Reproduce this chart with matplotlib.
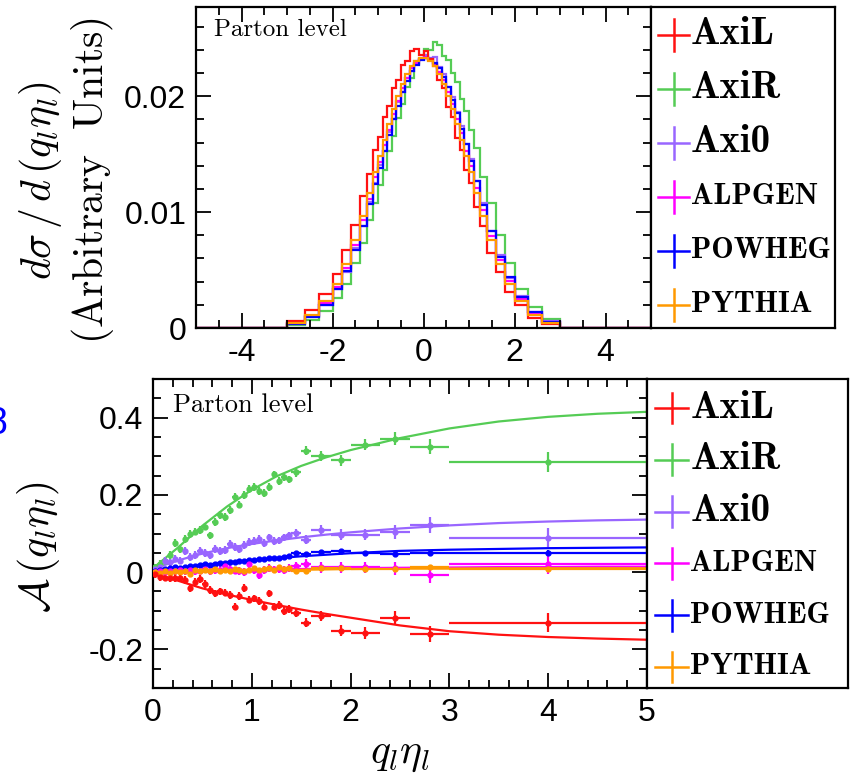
import numpy as np
import matplotlib
matplotlib.use('Agg')
import matplotlib.pyplot as plt
from matplotlib.ticker import MultipleLocator

plt.rcParams['font.family'] = 'Liberation Sans'
plt.rcParams['mathtext.fontset'] = 'cm'
plt.rcParams['axes.unicode_minus'] = False

# ---- data ----
names = ['AxiL', 'AxiR', 'Axi0', 'ALPGEN', 'POWHEG', 'PYTHIA']
colors = ['#ff1111', '#55cc55', '#9966ff', '#ff00ff', '#0000ff', '#ff9900']

# top panel: normalised q_l*eta_l distribution (variable bins), values in units of 1e-3
hist_edges = [-5, -3, -2.6, -2.3, -2.0, -1.8, -1.6, -1.4, -1.25, -1.1, -1.0, -0.9, -0.8, -0.7,
              -0.6, -0.5, -0.4, -0.3, -0.2, -0.1, 0.0, 0.1, 0.2, 0.3, 0.4, 0.5, 0.6, 0.7, 0.8,
              0.9, 1.0, 1.1, 1.25, 1.4, 1.6, 1.8, 2.0, 2.3, 2.6, 3.0, 5.0]
h_axil = [0, 0.64, 1.55, 2.95, 4.65, 6.75, 8.85, 11.4, 13.3, 15.4, 16.5, 18.2, 19.2, 20.7, 21.4,
          22.7, 23.0, 23.9, 24.1, 23.6, 23.9, 23.2, 22.6, 21.4, 20.7, 19.1, 18.2, 16.4, 15.4, 13.6,
          12.5, 10.4, 8.8, 6.5, 4.8, 3.1, 1.95, 0.9, 0.37, 0]
h_axir = [0, 0.27, 0.7, 1.45, 2.6, 3.8, 5.6, 7.3, 9.3, 10.8, 12.3, 13.6, 15.3, 16.6, 18.1, 19.3,
          20.8, 21.6, 22.8, 23.2, 24.1, 24.0, 24.7, 24.4, 23.5, 23.1, 22.0, 21.2, 19.8, 18.7, 17.1,
          15.5, 13.0, 10.8, 8.0, 5.6, 3.4, 1.8, 0.8, 0]
h_axi0 = [0, 0.4, 1.0, 1.95, 3.4, 4.85, 6.9, 8.8, 10.9, 12.5, 14.1, 15.3, 16.9, 18.0, 19.5, 20.4,
          21.6, 22.2, 23.0, 23.2, 23.6, 23.3, 23.4, 22.5, 21.9, 20.8, 19.9, 18.6, 17.4, 15.9, 14.6,
          12.7, 10.8, 8.4, 6.3, 4.3, 2.75, 1.35, 0.58, 0]
h_alpgen = [0, 0.43, 1.04, 2.18, 3.55, 5.2, 7.15, 9.3, 11.15, 13.0, 14.3, 15.8, 17.05, 18.45,
            19.55, 20.75, 21.55, 22.4, 22.85, 23.25, 23.35, 23.1, 22.8, 22.05, 21.4, 20.35, 19.35,
            18.05, 16.8, 15.3, 13.95, 12.1, 10.2, 7.9, 5.85, 4.05, 2.52, 1.25, 0.52, 0]
h_powheg = [0, 0.38, 0.96, 2.0, 3.33, 4.88, 6.77, 8.83, 10.7, 12.46, 13.83, 15.28, 16.63, 18.0,
            19.2, 20.38, 21.32, 22.16, 22.72, 23.15, 23.28, 23.25, 22.9, 22.43, 21.66, 20.79, 19.67,
            18.51, 17.17, 15.84, 14.4, 12.67, 10.58, 8.4, 6.15, 4.39, 2.66, 1.38, 0.55, 0]
h_pythia = [0, 0.46, 1.16, 2.31, 3.83, 5.49, 7.57, 9.68, 11.68, 13.43, 14.84, 16.24, 17.59, 18.86,
            20.03, 21.06, 21.92, 22.58, 23.04, 23.27, 23.27, 23.04, 22.58, 21.92, 21.06, 20.03,
            18.86, 17.59, 16.24, 14.84, 13.43, 11.68, 9.68, 7.57, 5.49, 3.83, 2.31, 1.16, 0.46, 0]

# bottom panel: asymmetry vs q_l*eta_l
asym_edges = [0.0, 0.05, 0.1, 0.15, 0.2, 0.25, 0.3, 0.35, 0.4, 0.45, 0.5, 0.55, 0.6, 0.65, 0.7,
              0.75, 0.8, 0.85, 0.9, 0.95, 1.0, 1.05, 1.1, 1.15, 1.2, 1.25, 1.3, 1.35, 1.4, 1.5,
              1.6, 1.8, 2.0, 2.3, 2.6, 3.0, 5.0]
a_axil = [-0.005, -0.012, -0.014, -0.015, -0.016, -0.015, -0.02, -0.042, -0.025, -0.018, -0.03,
          -0.046, -0.055, -0.05, -0.053, -0.06, -0.089, -0.062, -0.042, -0.071, -0.068, -0.075,
          -0.089, -0.055, -0.089, -0.085, -0.1, -0.095, -0.105, -0.131, -0.114, -0.152, -0.158,
          -0.118, -0.16, -0.131]
a_axir = [0.012, 0.022, 0.03, 0.045, 0.075, 0.06, 0.085, 0.098, 0.105, 0.11, 0.118, 0.095, 0.13,
          0.148, 0.142, 0.16, 0.195, 0.175, 0.2, 0.215, 0.22, 0.21, 0.205, 0.22, 0.253, 0.236,
          0.245, 0.24, 0.258, 0.314, 0.30, 0.29, 0.33, 0.345, 0.325, 0.285]
a_axi0 = [0.008, 0.012, 0.03, 0.025, 0.035, 0.03, 0.055, 0.04, 0.045, 0.055, 0.05, 0.045, 0.06,
          0.055, 0.058, 0.072, 0.065, 0.06, 0.07, 0.078, 0.08, 0.085, 0.075, 0.09, 0.08, 0.082,
          0.09, 0.095, 0.101, 0.084, 0.11, 0.097, 0.097, 0.104, 0.122, 0.089]
a_alpgen = [0.0, 0.003, 0.001, 0.004, 0.002, 0.005, 0.003, 0.006, 0.002, 0.004, 0.008, 0.003,
            0.006, 0.005, 0.017, 0.008, 0.004, 0.003, 0.0, 0.02, 0.006, -0.008, 0.005, 0.01,
            0.007, 0.009, 0.006, 0.01, 0.015, 0.021, 0.012, 0.012, 0.012, 0.01, -0.008, 0.021]
a_powheg = [0.003, 0.005, 0.008, 0.01, 0.012, 0.01, 0.014, 0.016, 0.015, 0.018, 0.02, 0.019,
            0.022, 0.024, 0.023, 0.027, 0.026, 0.03, 0.029, 0.032, 0.031, 0.034, 0.033, 0.036,
            0.037, 0.036, 0.04, 0.042, 0.05, 0.046, 0.052, 0.054, 0.05, 0.046, 0.05, 0.05]
a_pythia = [0.0, -0.002, 0.002, -0.003, 0.004, 0.001, 0.003, -0.004, 0.006, 0.002, 0.005, 0.004,
            0.007, 0.003, 0.006, 0.002, 0.008, 0.005, 0.004, 0.006, 0.01, 0.005, 0.008, 0.01,
            0.006, 0.012, 0.009, 0.01, 0.004, 0.003, 0.011, 0.011, 0.008, 0.008, 0.013, 0.008]
err_big = [0.01, 0.01, 0.01, 0.01, 0.01, 0.01, 0.01, 0.01, 0.01, 0.01, 0.01, 0.01, 0.01, 0.01,
           0.01, 0.01, 0.01, 0.01, 0.01, 0.01, 0.01, 0.01, 0.01, 0.01, 0.01, 0.01, 0.01, 0.01,
           0.011, 0.012, 0.013, 0.014, 0.015, 0.017, 0.02, 0.025]
err_small = [0.003, 0.003, 0.003, 0.003, 0.003, 0.003, 0.003, 0.003, 0.003, 0.003, 0.003, 0.003,
             0.003, 0.003, 0.003, 0.003, 0.003, 0.003, 0.003, 0.003, 0.003, 0.003, 0.003, 0.003,
             0.003, 0.003, 0.003, 0.003, 0.003, 0.003, 0.004, 0.004, 0.004, 0.005, 0.005, 0.006]

# fitted curves
fit_x = [0, 0.25, 0.5, 0.75, 1.0, 1.25, 1.5, 1.75, 2.0, 2.5, 3.0, 3.5, 4.0, 4.5, 5.0]
f_axil = [-0.003, -0.022, -0.042, -0.058, -0.072, -0.085, -0.097, -0.108, -0.118, -0.138, -0.153,
          -0.162, -0.168, -0.172, -0.175]
f_axir = [0.01, 0.063, 0.12, 0.17, 0.213, 0.248, 0.275, 0.297, 0.316, 0.347, 0.372, 0.39, 0.402,
          0.41, 0.415]
f_axi0 = [0.008, 0.03, 0.048, 0.062, 0.073, 0.082, 0.09, 0.097, 0.103, 0.113, 0.121, 0.127, 0.131,
          0.134, 0.136]
f_alpgen = [0.0, 0.002, 0.004, 0.005, 0.006, 0.007, 0.008, 0.009, 0.01, 0.011, 0.012, 0.013, 0.013,
            0.014, 0.014]
f_powheg = [0.004, 0.011, 0.018, 0.025, 0.031, 0.036, 0.041, 0.045, 0.049, 0.055, 0.058, 0.06,
            0.062, 0.063, 0.064]
f_pythia = [0.0, 0.001, 0.002, 0.003, 0.004, 0.005, 0.006, 0.007, 0.008, 0.009, 0.009, 0.01, 0.01,
            0.01, 0.01]

hists = [h_axil, h_axir, h_axi0, h_alpgen, h_powheg, h_pythia]
asyms = [a_axil, a_axir, a_axi0, a_alpgen, a_powheg, a_pythia]
yerrs = [err_big, err_big, err_big, err_big, err_small, err_small]
fits = [f_axil, f_axir, f_axi0, f_alpgen, f_powheg, f_pythia]

W, H = 855, 777
fig = plt.figure(figsize=(W / 100, H / 100), dpi=100)


def px_axes(x0, y0, x1, y1):
    # pixel box (left, top, right, bottom) -> figure axes
    return fig.add_axes([x0 / W, 1 - y1 / H, (x1 - x0) / W, (y1 - y0) / H])


def style(ax):
    for s in ax.spines.values():
        s.set_linewidth(1.6)
    ax.tick_params(which='both', direction='in', top=True, right=True, width=1.3,
                   labelsize=23, pad=7)
    ax.tick_params(which='major', length=11)
    ax.tick_params(which='minor', length=6)


def key(ax, ys):
    ax.set_xlim(0, 1)
    ax.set_ylim(0, 1)
    ax.set_xticks([])
    ax.set_yticks([])
    for s in ax.spines.values():
        s.set_linewidth(1.6)
    for i in range(6):
        y = ys[i]
        ax.plot([0.04, 0.205], [y, y], color=colors[i], lw=1.8)
        ax.plot([0.125, 0.125], [y - 0.05, y + 0.05], color=colors[i], lw=1.8)
        size = 28 if names[i].startswith('Axi') else 21.5
        ax.text(0.215, y, names[i], fontfamily='cmb10', fontsize=size, va='center', ha='left')


# ---- top panel ----
ax1 = px_axes(196, 7, 651, 328)
draw_order = [1, 2, 3, 4, 0, 5]
for i in draw_order:
    ax1.stairs(np.array(hists[i]) * 1e-3, hist_edges, color=colors[i], lw=1.6)
ax1.set_xlim(-5, 5)
ax1.set_ylim(0, 0.0277)
ax1.xaxis.set_major_locator(MultipleLocator(2))
ax1.xaxis.set_minor_locator(MultipleLocator(0.5))
ax1.set_yticks([0, 0.01, 0.02], labels=['0', '0.01', '0.02'])
ax1.yaxis.set_minor_locator(MultipleLocator(0.002))
style(ax1)
ax1.set_ylabel(r'$d\sigma\,/\,d\,(q_l\eta_l)$' + '\n' + r'$\mathrm{(Arbitrary\ \ Units)}$',
               fontsize=30, linespacing=1.15)
ax1.yaxis.set_label_coords(-0.175, 0.46)
ax1.text(0.04, 0.93, 'Parton level', transform=ax1.transAxes, fontfamily='cmr10',
         fontsize=18, va='center')

key(px_axes(651, 7, 835, 328), np.linspace(0.913, 0.072, 6))

# ---- bottom panel ----
ax2 = px_axes(153, 379, 647, 688)
edges = np.array(asym_edges)
centers = 0.5 * (edges[1:] + edges[:-1])
halfw = 0.5 * (edges[1:] - edges[:-1])
for i in [1, 2, 4, 3, 5, 0]:
    ax2.plot(fit_x, fits[i], color=colors[i], lw=1.6, zorder=2)
    ax2.errorbar(centers, asyms[i], xerr=halfw, yerr=yerrs[i], fmt='o', ms=3.5,
                 color=colors[i], elinewidth=1.6, capsize=0, zorder=3)
ax2.set_xlim(0, 5)
ax2.set_ylim(-0.3, 0.5)
ax2.xaxis.set_major_locator(MultipleLocator(1))
ax2.xaxis.set_minor_locator(MultipleLocator(0.2))
ax2.set_yticks([-0.2, 0, 0.2, 0.4], labels=['-0.2', '0', '0.2', '0.4'])
ax2.yaxis.set_minor_locator(MultipleLocator(0.05))
style(ax2)
ax2.set_ylabel(r'$\mathcal{A}\,(q_l\eta_l)$', fontsize=30)
ax2.yaxis.set_label_coords(-0.185, 0.455)
ax2.set_xlabel(r'$q_l\eta_l$', fontsize=30)
ax2.xaxis.set_label_coords(0.5, -0.15)
ax2.text(0.04, 0.915, 'Parton level', transform=ax2.transAxes, fontfamily='cmr10',
         fontsize=19, va='center')

key(px_axes(647, 379, 848, 688), np.linspace(0.906, 0.068, 6))

# cropped blue mark on the left edge (partly outside the picture, as in the source)
fig.text(-0.016, 1 - 424 / H, '8', color='blue', fontsize=27, va='center')

fig.savefig('out.png', dpi=100)
